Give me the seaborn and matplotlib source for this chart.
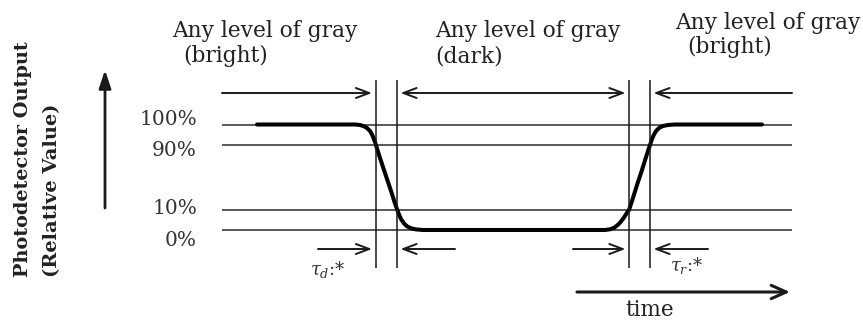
import numpy as np
import matplotlib
matplotlib.use("Agg")
import matplotlib.pyplot as plt
import seaborn as sns

# ---- data -------------------------------------------------------------
# output levels (percent of full photodetector output) and their labels
levels = [100, 90, 10, 0]
level_labels = ["100%", "90%", "10%", "0%"]

# time span of the level lines (arbitrary time units)
t_start, t_end = 0.0, 57.0
# 90% and 10% crossings of the falling edge (tau_d) and rising edge (tau_r)
t_fall = [15.35, 17.5]
t_rise = [40.7, 42.8]

# photodetector response: bright -> dark -> bright
curve_t = [3.5, 13.3, 13.8, 14.2, 14.5, 14.8, 15.05, 15.3, 15.5, 15.8, 16.1, 16.4,
           16.7, 17.0, 17.25, 17.5, 17.7, 17.9, 18.2, 18.5, 18.9, 19.4, 20.1, 20.8,
           38.3, 38.8, 39.2, 39.6, 39.9, 40.2, 40.45, 40.7, 41.0, 41.3, 41.6, 41.9,
           42.2, 42.5, 42.8, 43.0, 43.2, 43.4, 43.7, 44.1, 44.6, 45.3, 54.0]
curve_v = [100, 100, 99.76, 99.12, 98.29, 96.83, 94.63, 91.46, 85.7, 74.0, 62.9, 51.8,
           40.8, 29.7, 19.8, 11.2, 7.75, 5.5, 3.25, 1.85, 0.85, 0.3, 0, 0,
           0, 0.35, 1.1, 2.6, 4.25, 6.25, 8.25, 10, 21.1, 32.8, 44.5, 55.5,
           67.2, 78.9, 90, 92.9, 95.1, 96.8, 98.3, 99.27, 99.76, 100, 100]

caption_top = ["Any level of gray", "Any level of gray", "Any level of gray"]
caption_sub = ["(bright)", "(dark)", "(bright)"]

# ---- figure -----------------------------------------------------------
W, H = 863, 320
sns.set_theme(style="white")
plt.rcParams["font.family"] = ["DejaVu Serif"]
plt.rcParams["mathtext.fontset"] = "dejavuserif"

fig = plt.figure(figsize=(W / 100, H / 100), dpi=100)
ax = fig.add_axes([0, 0, 1, 1])

# the 10%..90% band is drawn compressed relative to the 0-10 / 90-100 bands
knots_v = [0, 10, 90, 100]
knots_s = [0, 20, 85, 105.5]


def fwd(v):
    v = np.asarray(v, float)
    s = np.interp(v, knots_v, knots_s)
    s = np.where(v < 0, v, s)
    return np.where(v > 100, knots_s[-1] + (v - 100), s)


def inv(s):
    s = np.asarray(s, float)
    v = np.interp(s, knots_s, knots_v)
    v = np.where(s < 0, s, v)
    return np.where(s > knots_s[-1], 100 + (s - knots_s[-1]), v)


ax.set_yscale("function", functions=(fwd, inv))

ink = "#1a1a1a"
# level lines
ax.hlines(levels, t_start, t_end, color="#2b2b2b", lw=1.1)

# response curve
sns.lineplot(x=curve_t, y=curve_v, ax=ax, color="black", lw=2.9,
             sort=False, estimator=None, solid_joinstyle="round",
             solid_capstyle="round")

ax.set_xlim(-22.2, 64.1)
ax.set_ylim(-90, 224.5)
ax.axis("off")

xt = ax.get_xaxis_transform()


def frac(py):
    return 1 - py / H


# vertical markers at the 90% / 10% crossings
ax.vlines(t_fall + t_rise, frac(268), frac(80), color=ink, lw=1.1, transform=xt)


def arrow(x0, x1, py, style="->", lw=1.4, hl=0.8, hw=0.3):
    ax.annotate("", xy=(x1, frac(py)), xytext=(x0, frac(py)),
                xycoords=xt, textcoords=xt,
                arrowprops=dict(arrowstyle=f"{style},head_length={hl},head_width={hw}",
                                lw=lw, color=ink, shrinkA=0, shrinkB=0))


gap = 0.35
# upper arrows: the three gray-level periods
arrow(t_start, t_fall[0] - gap, 93)
arrow(t_fall[1] + gap, t_rise[0] - gap, 93, style="<->")
arrow(t_end, t_rise[1] + gap, 93)
# lower arrows: response intervals
arrow(t_fall[0] - 5.75, t_fall[0] - gap, 249)
arrow(t_fall[1] + 5.8, t_fall[1] + gap, 249)
arrow(t_rise[0] - 5.6, t_rise[0] - gap, 249)
arrow(t_rise[1] + 5.8, t_rise[1] + gap, 249)

# time arrow
arrow(35.5, 56.8, 292, style="->", lw=2.2, hl=0.9, hw=0.4)

ta = ax.transAxes
# output axis arrow
ax.annotate("", xy=(105 / W, frac(70)), xytext=(105 / W, frac(208)),
            xycoords=ta, textcoords=ta,
            arrowprops=dict(arrowstyle="-|>,head_length=0.9,head_width=0.3",
                            lw=2.0, color=ink, shrinkA=0, shrinkB=0))

# level labels
label_y = [119.5, 150.5, 208.5, 240.5]
for lab, py in zip(level_labels, label_y):
    ax.text(197 / W, frac(py), lab, transform=ta, ha="right", va="center",
            fontsize=14.5, color="#333333")

# captions above each period
top_pos = [(172, 37), (435, 37), (675, 29)]
sub_pos = [(183, 62), (435, 62), (687, 53)]
for txt, (px_, py_) in zip(caption_top, top_pos):
    ax.text(px_ / W, frac(py_), txt, transform=ta, ha="left", va="baseline",
            fontsize=15.7, color="#222222")
for txt, (px_, py_) in zip(caption_sub, sub_pos):
    ax.text(px_ / W, frac(py_), txt, transform=ta, ha="left", va="baseline",
            fontsize=15.7, color="#222222")

# vertical axis title
ax.text(23 / W, frac(277), "Photodetector Output", transform=ta, rotation=90,
        rotation_mode="anchor", ha="left", va="center", fontsize=13.9,
        fontweight="bold", color="#222222")
ax.text(52 / W, frac(277), "(Relative Value)", transform=ta, rotation=90,
        rotation_mode="anchor", ha="left", va="center", fontsize=14,
        fontweight="bold", color="#222222")

# response-time symbols
ax.text(310 / W, frac(269), r"$\tau_d$:*", transform=ta, ha="left", va="center",
        fontsize=13, color="#333333")
ax.text(670 / W, frac(266), r"$\tau_r$:*", transform=ta, ha="left", va="center",
        fontsize=13, color="#333333")

ax.text(650 / W, frac(316), "time", transform=ta, ha="center", va="baseline",
        fontsize=15.5, color="#222222")

fig.savefig("out.png", dpi=100, facecolor="white")
